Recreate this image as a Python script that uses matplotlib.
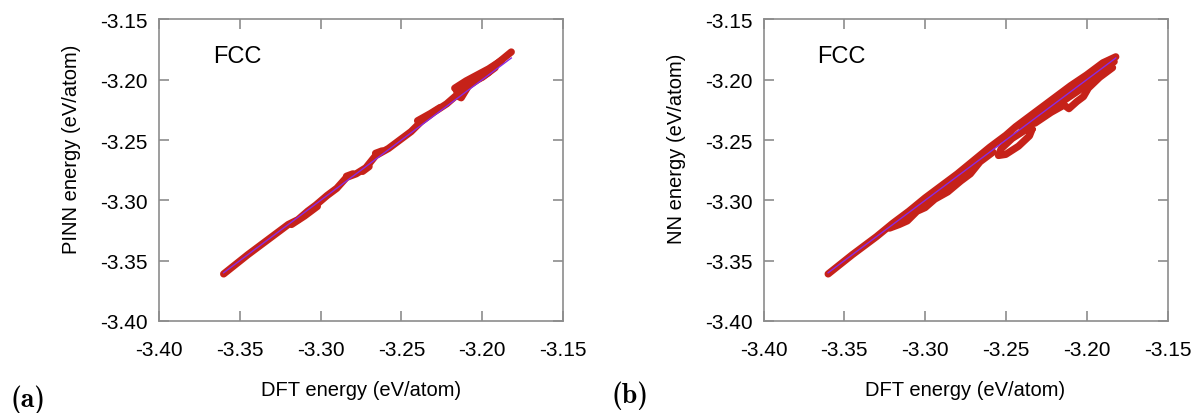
import matplotlib
matplotlib.use("Agg")
import matplotlib.pyplot as plt

plt.rcParams['font.family'] = ['Liberation Sans', 'DejaVu Sans']
plt.rcParams['axes.unicode_minus'] = False

# ---------------- data ----------------
# Panel (a): PINN vs DFT (eV/atom)
a_dft_main  = [-3.360, -3.345, -3.330, -3.320, -3.314, -3.308, -3.303, -3.296, -3.290,
               -3.284, -3.278, -3.272, -3.266, -3.258, -3.250, -3.244, -3.238, -3.230,
               -3.222, -3.216, -3.213, -3.208, -3.200, -3.192, -3.182]
a_pinn_main = [-3.361, -3.345, -3.330, -3.320, -3.316, -3.309, -3.304, -3.296, -3.290,
               -3.281, -3.278, -3.273, -3.263, -3.257, -3.249, -3.243, -3.235, -3.227,
               -3.220, -3.213, -3.215, -3.204, -3.196, -3.188, -3.177]
a_dft_low   = [-3.318, -3.310, -3.302]
a_pinn_low  = [-3.320, -3.313, -3.305]
a_dft_blob  = [-3.217, -3.210, -3.203, -3.196, -3.188]
a_pinn_blob = [-3.207, -3.201, -3.196, -3.191, -3.184]
a_dft_blob2 = [-3.215, -3.205, -3.196]
a_pinn_blob2 = [-3.211, -3.202, -3.194]
a_dft_blob3 = [-3.216, -3.208, -3.200, -3.192]
a_pinn_blob3 = [-3.209, -3.203, -3.198, -3.190]
a_dft_bump  = [-3.240, -3.232, -3.226]
a_pinn_bump = [-3.234, -3.228, -3.223]
a_dft_bump2 = [-3.266, -3.262]
a_pinn_bump2 = [-3.261, -3.259]
a_dft_bump3 = [-3.284, -3.280]
a_pinn_bump3 = [-3.280, -3.278]
a_dft_bump4 = [-3.274, -3.270]
a_pinn_bump4 = [-3.276, -3.272]

# Panel (b): NN vs DFT (eV/atom)
b_dft_main  = [-3.360, -3.345, -3.330, -3.320, -3.310, -3.300, -3.290, -3.280, -3.270,
               -3.260, -3.250, -3.244, -3.236, -3.228, -3.220, -3.210, -3.200, -3.190,
               -3.182]
b_nn_main   = [-3.361, -3.345, -3.330, -3.319, -3.309, -3.298, -3.288, -3.278, -3.267,
               -3.256, -3.246, -3.239, -3.231, -3.223, -3.215, -3.205, -3.196, -3.186,
               -3.181]
b_dft_upmid = [-3.240, -3.230, -3.220, -3.210, -3.200, -3.190, -3.183]
b_nn_upmid  = [-3.241, -3.231, -3.221, -3.211, -3.201, -3.191, -3.185]
b_dft_up2   = [-3.236, -3.225, -3.215, -3.205, -3.195, -3.186]
b_nn_up2    = [-3.238, -3.228, -3.218, -3.209, -3.199, -3.188]
b_dft_low   = [-3.232, -3.222, -3.214, -3.211, -3.206, -3.202, -3.199, -3.192, -3.184]
b_nn_low    = [-3.236, -3.227, -3.221, -3.224, -3.218, -3.214, -3.207, -3.198, -3.190]
b_dft_mid   = [-3.322, -3.316, -3.311, -3.305, -3.300, -3.294, -3.286, -3.278, -3.272,
               -3.266, -3.258]
b_nn_mid    = [-3.323, -3.320, -3.317, -3.309, -3.306, -3.299, -3.293, -3.284, -3.278,
               -3.268, -3.260]
b_dft_mid2  = [-3.318, -3.305, -3.295, -3.285, -3.275, -3.265]
b_nn_mid2   = [-3.319, -3.305, -3.296, -3.286, -3.275, -3.264]
b_dft_loop  = [-3.2338, -3.2354, -3.2422, -3.2501, -3.2546, -3.2530, -3.2462, -3.2383, -3.2338]
b_nn_loop   = [-3.2410, -3.2465, -3.2551, -3.2619, -3.2628, -3.2573, -3.2487, -3.2419, -3.2410]

# y = x reference line
fit_a = [-3.360, -3.182]
fit_b = [-3.360, -3.182]

ticks = [-3.40, -3.35, -3.30, -3.25, -3.20, -3.15]
tick_labels = ['-3.40', '-3.35', '-3.30', '-3.25', '-3.20', '-3.15']

RED = '#c62219'
PURPLE = '#8a2be2'
GRAY = '#8c8c8c'

fig = plt.figure(figsize=(11.93, 4.14), dpi=100)
ax_a = fig.add_axes([159/1193, 92/414, 404/1193, 301.6/414])
ax_b = fig.add_axes([763.5/1193, 92/414, 404/1193, 301.6/414])


def draw(ax, traces, fit, ylabel):
    for xs, ys in traces:
        ax.plot(xs, ys, '-', color=RED, lw=5.2, solid_capstyle='round',
                solid_joinstyle='round')
    ax.plot(fit, fit, '-', color=PURPLE, lw=1.0)
    ax.set_xlim(-3.40, -3.15)
    ax.set_ylim(-3.40, -3.15)
    ax.set_xticks(ticks)
    ax.set_yticks(ticks)
    ax.set_xticklabels(tick_labels)
    ax.set_yticklabels(tick_labels)
    ax.tick_params(direction='in', length=7, width=1.2, color=GRAY,
                   top=True, right=True, labelsize=15)
    ax.tick_params(axis='x', pad=14)
    ax.tick_params(axis='y', pad=8)
    for s in ax.spines.values():
        s.set_color(GRAY)
        s.set_linewidth(1.2)
    ax.set_xlabel('DFT energy (eV/atom)', fontsize=14.5)
    ax.set_ylabel(ylabel, fontsize=14.5)
    ax.xaxis.set_label_coords(0.5, -0.196)
    ax.yaxis.set_label_coords(-0.193, 0.574)
    ax.text(-3.3667, -3.1856, 'FCC', fontsize=17, ha='left', va='baseline')


draw(ax_a, [(a_dft_main, a_pinn_main), (a_dft_low, a_pinn_low),
            (a_dft_blob, a_pinn_blob), (a_dft_blob2, a_pinn_blob2),
            (a_dft_blob3, a_pinn_blob3),
            (a_dft_bump, a_pinn_bump), (a_dft_bump2, a_pinn_bump2),
            (a_dft_bump3, a_pinn_bump3), (a_dft_bump4, a_pinn_bump4)],
     fit_a, 'PINN energy (eV/atom)')
draw(ax_b, [(b_dft_main, b_nn_main), (b_dft_upmid, b_nn_upmid),
            (b_dft_up2, b_nn_up2), (b_dft_low, b_nn_low),
            (b_dft_mid, b_nn_mid), (b_dft_mid2, b_nn_mid2),
            (b_dft_loop, b_nn_loop)], fit_b, 'NN energy (eV/atom)')

fig.text(11/1193, 1 - 400/414, '(a)', family=['cmb10', 'DejaVu Serif'],
         fontweight='bold', fontsize=20, ha='left', va='center')
fig.text(611/1193, 1 - 396/414, '(b)', family=['cmb10', 'DejaVu Serif'],
         fontweight='bold', fontsize=20, ha='left', va='center')

fig.savefig('out.png', dpi=100)
